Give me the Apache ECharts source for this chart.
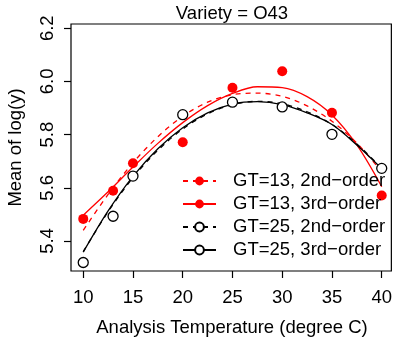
<!DOCTYPE html>
<html>
<head>
<meta charset="utf-8">
<script src="https://cdn.jsdelivr.net/npm/echarts@6/dist/echarts.min.js"></script>
<style>
html,body{margin:0;padding:0;background:#fff;}
#chart{width:395px;height:338px;}
</style>
</head>
<body>
<div id="chart"></div>
<script>
// ---- data ----
const temps = [10, 13, 15, 20, 25, 30, 35, 40];
const gt13Means = [5.483, 5.589, 5.692, 5.771, 5.976, 6.038, 5.882, 5.571];
const gt25Means = [5.319, 5.493, 5.644, 5.875, 5.922, 5.904, 5.801, 5.673];

const curveX = [10, 12.5, 15, 17.5, 20, 22.5, 25, 27.5, 30, 32.5, 35, 37.5, 40];
const gt13Quad  = [5.440, 5.575, 5.694, 5.792, 5.869, 5.922, 5.950, 5.956, 5.944, 5.908, 5.850, 5.768, 5.660];
const gt13Cubic = [5.497, 5.585, 5.678, 5.767, 5.845, 5.909, 5.955, 5.980, 5.977, 5.943, 5.874, 5.761, 5.604];
const gt25Quad  = [5.360, 5.510, 5.638, 5.741, 5.821, 5.878, 5.913, 5.925, 5.916, 5.886, 5.838, 5.765, 5.673];
const gt25Cubic = [5.358, 5.513, 5.643, 5.747, 5.826, 5.882, 5.915, 5.924, 5.913, 5.882, 5.838, 5.761, 5.672];

const xTicks = [10, 15, 20, 25, 30, 35, 40];
const yTicks = [5.4, 5.6, 5.8, 6.0, 6.2];

const legendNames = ['GT=13, 2nd\u2212order', 'GT=13, 3rd\u2212order', 'GT=25, 2nd\u2212order', 'GT=25, 3rd\u2212order'];
const titleText = 'Variety = O43';
const xTitle = 'Analysis Temperature (degree C)';
const yTitle = 'Mean of log(y)';

// ---- chart ----
const FONT = 'Liberation Sans, Arial, Helvetica, sans-serif';
const FS = 18.5;
const pair = (xs, ys) => xs.map((x, i) => [x, ys[i]]);

const chart = echarts.init(document.getElementById('chart'), null, {renderer: 'canvas'});

function curve(name, ys, color, type, fill) {
  return {
    name: name,
    type: 'line',
    data: pair(curveX, ys),
    smooth: 0.33,
    symbol: 'circle',
    showSymbol: false,
    silent: true,
    lineStyle: {color: color, width: 1.3, type: type === 'dashed' ? [5, 5] : 'solid'},
    itemStyle: fill ? {color: color, opacity: 1} : {color: '#fff', borderColor: color, borderWidth: 1.3, opacity: 1},
    z: 2
  };
}

const option = {
  animation: false,
  backgroundColor: '#fff',
  grid: {left: 71, top: 24, right: 2, bottom: 67, show: true, borderColor: '#000', borderWidth: 1.2, backgroundColor: 'transparent'},
  xAxis: {
    type: 'value', min: 8.77, max: 40.97,
    axisLine: {show: false},
    splitLine: {show: false},
    axisTick: {show: true, length: 7, lineStyle: {color: '#000', width: 1.2}, customValues: xTicks},
    axisLabel: {show: true, color: '#000', fontFamily: FONT, fontSize: FS, margin: 17, customValues: xTicks,
      formatter: v => String(v)}
  },
  yAxis: {
    type: 'value', min: 5.287, max: 6.216,
    axisLine: {show: false},
    splitLine: {show: false},
    axisTick: {show: true, length: 7, lineStyle: {color: '#000', width: 1.2}, customValues: yTicks},
    axisLabel: {show: true, color: '#000', fontFamily: FONT, fontSize: FS, margin: 14, rotate: 90, customValues: yTicks,
      formatter: v => Number(v).toFixed(1)}
  },
  legend: {
    orient: 'vertical', left: 177, top: 166,
    itemWidth: 33, itemHeight: 11, itemGap: 3,
    padding: 5,
    textStyle: {color: '#000', fontFamily: FONT, fontSize: FS, lineHeight: 20, padding: [0, 0, 0, 12]},
    data: legendNames,
    selectedMode: false
  },
  series: [
    curve(legendNames[0], gt13Quad, '#ff0000', 'dashed', true),
    curve(legendNames[1], gt13Cubic, '#ff0000', 'solid', true),
    curve(legendNames[2], gt25Quad, '#000000', 'dashed', false),
    curve(legendNames[3], gt25Cubic, '#000000', 'solid', false),
    {
      name: 'GT=13 means', type: 'scatter', data: pair(temps, gt13Means),
      symbol: 'circle', symbolSize: 10, itemStyle: {color: '#ff0000', opacity: 1}, z: 3, silent: true
    },
    {
      name: 'GT=25 means', type: 'scatter', data: pair(temps, gt25Means),
      symbol: 'circle', symbolSize: 10, itemStyle: {color: '#fff', borderColor: '#000', borderWidth: 1.3, opacity: 1}, z: 3, silent: true
    }
  ],
  graphic: [
    {type: 'text', x: 232, y: 14, style: {text: titleText, font: FS + 'px ' + FONT, fill: '#000', align: 'center', verticalAlign: 'middle'}},
    {type: 'text', x: 232, y: 328, style: {text: xTitle, font: FS + 'px ' + FONT, fill: '#000', align: 'center', verticalAlign: 'middle'}},
    {type: 'text', x: 16, y: 147.5, rotation: Math.PI / 2, style: {text: yTitle, font: FS + 'px ' + FONT, fill: '#000', align: 'center', verticalAlign: 'middle'}}
  ]
};
chart.setOption(option);
</script>
</body>
</html>
